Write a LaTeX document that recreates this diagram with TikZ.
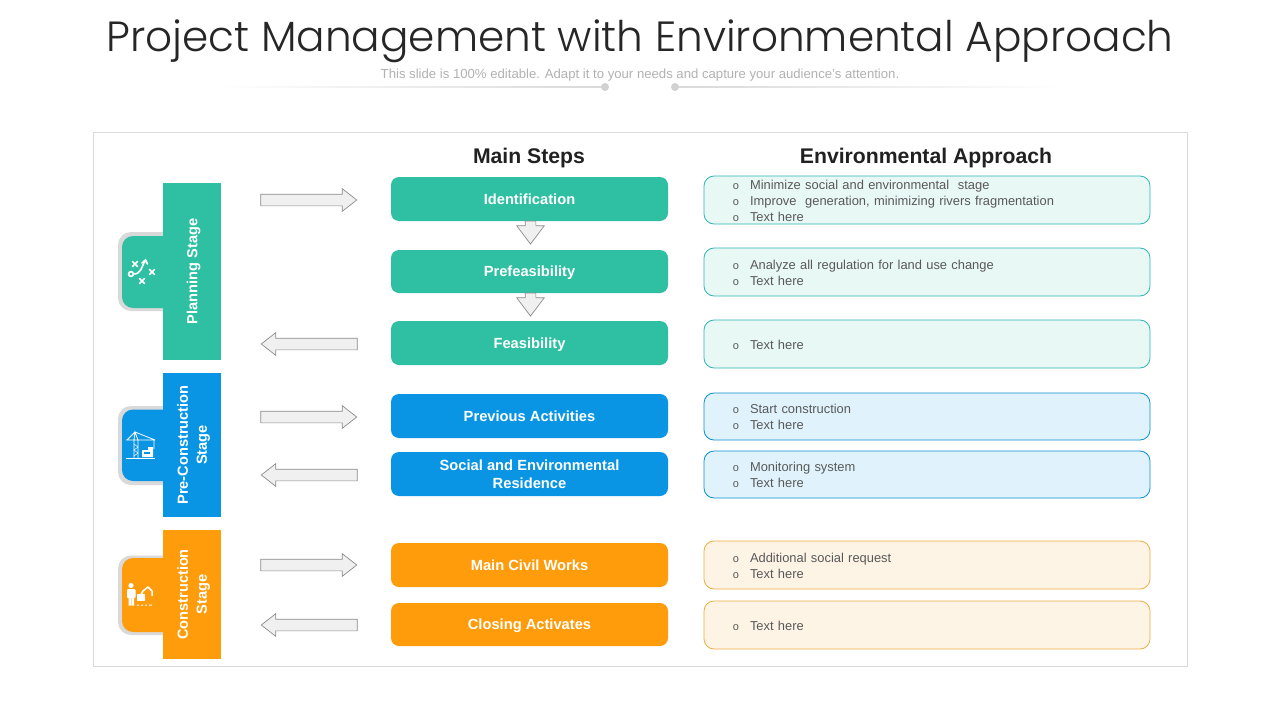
\documentclass[tikz,border=0pt]{standalone}
\usepackage{fontspec}
\setmainfont{Liberation Sans}
\newfontfamily\titlefont[UprightFont=* Light]{Poppins}
\usetikzlibrary{shapes.arrows,positioning,calc}
\definecolor{teal1}{HTML}{2FBFA2}
\definecolor{blue1}{HTML}{0A95E4}
\definecolor{orange1}{HTML}{FF9C0C}
\definecolor{tealbg}{HTML}{E8F8F5}
\definecolor{bluebg}{HTML}{E0F3FC}
\definecolor{orangebg}{HTML}{FDF4E6}
\definecolor{tealln}{HTML}{2FB5B0}
\definecolor{blueln}{HTML}{0B8FD0}
\definecolor{orangeln}{HTML}{EDAE45}
\definecolor{gridgray}{HTML}{D9D9D9}
\definecolor{txt}{HTML}{595959}
\newcommand{\bu}[1]{\leavevmode\raisebox{0pt}[12pt][2pt]{\hbox to 38pt{\hspace{19pt}\makebox[10pt]{\fontsize{11}{16}\selectfont o}\hfill}#1}}
\newcommand{\arrowbox}[1]{\phantom{\rule{#1}{#1}}}
\tikzset{
  x=1pt,y=-1pt,
  frame/.style={draw=gridgray,line width=0.8pt,fill=white},
  stepbox/.style={rounded corners=8pt,minimum width=277pt,inner sep=0pt,text=white,align=center,
     text height=10.6pt,text depth=0pt,
     font=\fontsize{14.7}{18}\selectfont\bfseries,fill=#1},
  notebox/.style={rounded corners=10pt,minimum width=446pt,inner xsep=8pt,inner ysep=0pt,text width=430pt,
     align=left,text=txt,font=\fontsize{12.9}{16}\selectfont,line width=0.8pt},
  stagebox/.style={rotate=90,minimum height=58pt,inner sep=0pt,fill=#1,text=white,align=center,text depth=0pt,
     font=\fontsize{14.6}{19}\selectfont\bfseries},
  blockarrow/.style={single arrow,draw=black!45,fill=black!6,line width=0.7pt,inner sep=0pt,
     minimum height=96pt,minimum width=22pt,single arrow head extend=5.5pt,single arrow tip angle=76},
  downarrow/.style={single arrow,draw=black!45,fill=black!6,line width=0.7pt,inner sep=0pt,shape border rotate=270,
     minimum height=23pt,minimum width=27pt,single arrow head extend=8.5pt,single arrow tip angle=74},
  iconw/.style={draw=white,line width=1.6pt,line cap=round},
  heading/.style={font=\fontsize{21.2}{24}\selectfont\bfseries,text=black!87},
}
\newcommand{\cross}[1]{\draw[iconw] ($#1+(-2.5,-2.5)$) -- ($#1+(2.5,2.5)$) ($#1+(-2.5,2.5)$) -- ($#1+(2.5,-2.5)$);}
\begin{document}
\begin{tikzpicture}
\useasboundingbox (0,0) rectangle (1280,720);
\fill[white] (0,0) rectangle (1280,720);
% header
\node[font=\titlefont\fontsize{42.2}{50}\selectfont,text=black!85] (title) at (640,41.5) {Project Management with Environmental Approach};
\node[font=\fontsize{13.15}{14}\selectfont,text=black!30] (sub) at (640,75) {This slide is 100\% editable. Adapt it to your needs and capture your audience's attention.};
\shade[left color=white,right color=black!15] (215,86.7) rectangle (605,87.3);
\shade[left color=black!15,right color=white] (675,86.7) rectangle (1065,87.3);
\fill[black!18] (605,87) circle (4) (675,87) circle (4);
% frame
\draw[frame] (93.5,132) rectangle (1187.5,666.5);
\node[heading] (h1) at (529,158.5) {Main Steps};
\node[heading] (h2) at (926,158.5) {Environmental Approach};
% tabs
\foreach \ya/\yb/\gt/\gb/\c in {236/308/232/311/teal1,409.5/481/406/485/blue1,558/632/555.5/635/orange1}{
  \fill[gridgray,rounded corners=13pt] (180,\gt) -- (118,\gt) -- (118,\gb) -- (180,\gb) -- cycle;
  \fill[\c,rounded corners=11pt] (180,\ya) -- (122,\ya) -- (122,\yb) -- (180,\yb) -- cycle;
}
% stages
\node[stagebox=teal1,minimum width=177pt] (s1) at (192,271.5) {Planning Stage};
\node[stagebox=blue1,minimum width=144pt,text depth=-2pt] (s2) at (192,445) {Pre-Construction\\Stage};
\node[stagebox=orange1,minimum width=129pt,text depth=-2pt] (s3) at (192,594.5) {Construction\\Stage};
% icons: planning
\draw[iconw] (131,274) circle (2.4);
\draw[iconw] (133.5,274) .. controls (141,274) and (141,268) .. (145,261);
\draw[iconw] (142,263) -- (145.5,260) -- (147.5,264);
\cross{(135,264)}
\cross{(152,272)}
\cross{(142,281)}
% icons: crane
\draw[white,line width=0.8pt] (126,440) -- (155,440) (134,458) -- (134,440) (138,458) -- (138,440) (134,440) -- (135,432) -- (138,440) (127,440) -- (135,432) -- (155,440) (154,440) -- (154,449);
\draw[white,line width=0.5pt] (134,444) -- (138,447) -- (134,450) -- (138,453) -- (134,456);
\draw[white,line width=0.8pt] (126,458) -- (155,458);
\fill[white] (142,450) rectangle (152,457) (148,447) rectangle (153,457);
\fill[blue1] (144,452) rectangle (150,453.5);
% icons: worker and excavator
\fill[white] (131,585.5) circle (2.6);
\fill[white,rounded corners=1pt] (127,589) rectangle (135.5,598);
\fill[white] (128.5,597) rectangle (131,605.5) (131.7,597) rectangle (134.2,605.5);
\draw[white,line width=1.5pt,line join=round] (139,598) -- (143,591) -- (148,587) -- (152,591) -- (152,596);
\fill[white] (137,594) rectangle (145,601);
\fill[white] (137,604.5) rectangle (139,605.5) (141,604.5) rectangle (143,605.5) (145,604.5) rectangle (147,605.5) (149,604.5) rectangle (152,605.5);
% steps
\node[stepbox=teal1,minimum height=44pt] (m1) at (529.5,199) {Identification};
\node[stepbox=teal1,minimum height=43pt] (m2) at (529.5,271.5) {Prefeasibility};
\node[stepbox=teal1,minimum height=44pt] (m3) at (529.5,343) {Feasibility};
\node[stepbox=blue1,minimum height=44pt] (m4) at (529.5,416) {Previous Activities};
\node[stepbox=blue1,minimum height=44pt,text height=,text depth=-4pt] (m5) at (529.5,474) {Social and Environmental\\Residence};
\node[stepbox=orange1,minimum height=44pt] (m6) at (529.5,565) {Main Civil Works};
\node[stepbox=orange1,minimum height=43pt] (m7) at (529.5,624.5) {Closing Activates};
% notes
\node[notebox,draw=tealln,fill=tealbg,minimum height=48pt] (n1) at (927,200) {\bu{Minimize social and environmental\ \ stage}\\\bu{Improve\ \ generation, minimizing rivers fragmentation}\\\bu{Text here}};
\node[notebox,draw=tealln,fill=tealbg,minimum height=48pt] (n2) at (927,272) {\bu{Analyze all regulation for land use change}\\\bu{Text here}};
\node[notebox,draw=tealln,fill=tealbg,minimum height=48pt] (n3) at (927,344) {\bu{Text here}};
\node[notebox,draw=blueln,fill=bluebg,minimum height=47pt] (n4) at (927,416.5) {\bu{Start construction}\\\bu{Text here}};
\node[notebox,draw=blueln,fill=bluebg,minimum height=47pt] (n5) at (927,474.5) {\bu{Monitoring system}\\\bu{Text here}};
\node[notebox,draw=orangeln,fill=orangebg,minimum height=48pt] (n6) at (927,565) {\bu{Additional social request}\\\bu{Text here}};
\node[notebox,draw=orangeln,fill=orangebg,minimum height=48pt] (n7) at (927,625) {\bu{Text here}};
% arrows
\node[blockarrow] (a1) at (305,200) {\arrowbox{11pt}};
\node[blockarrow,shape border rotate=180] (a2) at (313,344) {\arrowbox{11pt}};
\node[blockarrow] (a3) at (305,417) {\arrowbox{11pt}};
\node[blockarrow,shape border rotate=180] (a4) at (313,475) {\arrowbox{11pt}};
\node[blockarrow] (a5) at (305,565) {\arrowbox{11pt}};
\node[blockarrow,shape border rotate=180] (a6) at (313,625) {\arrowbox{11pt}};
\node[downarrow] (d1) at (530.5,229) {\arrowbox{10pt}};
\node[downarrow] (d2) at (530.5,301) {\arrowbox{10pt}};
\end{tikzpicture}
\end{document}
